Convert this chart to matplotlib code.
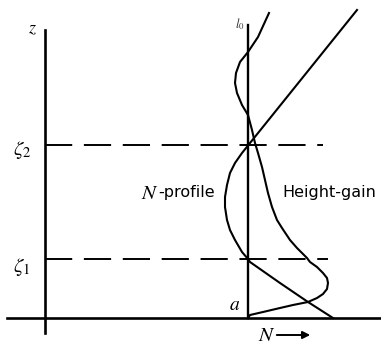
import matplotlib.pyplot as plt

plt.rcParams['mathtext.fontset'] = 'stix'

# heights of the duct boundaries
zeta1 = 59
zeta2 = 173
n_ref = 203   # vertical reference line through a

# N-profile (N, z)
nprof_N = [288, 263, 235, 205, 203, 197, 190, 185, 182, 180, 180, 182, 185, 190, 197, 205, 312]
nprof_z = [0, 16, 35, 56, 59, 66, 78, 88, 98, 111, 121, 133, 145, 155, 165, 175, 308]

# height-gain curve (N, z)
hg_N = [203, 205, 218, 235, 248, 263, 272, 278, 282, 283, 282, 278, 272, 265,
        262, 252, 245, 237, 232, 227, 223, 220, 217, 213, 210, 207, 203,
        197, 192, 190, 191, 195, 203, 213, 224]
hg_z = [0, 3, 6, 10, 13, 16, 20, 24, 29, 35, 40, 45, 51, 56,
        60, 70, 78, 90, 98, 111, 125, 138, 151, 165, 175, 188, 203,
        213, 225, 235, 245, 256, 266, 281, 305]

fig = plt.figure(figsize=(3.81, 3.44), dpi=100)
ax = fig.add_axes([0, 0, 1, 1])
ax.set_xlim(-45, 336)
ax.set_ylim(-26, 318)
ax.axis('off')

# axes
ax.plot([0, 0], [-15, 288], color='black', lw=1.9)
ax.plot([-38, 336], [0, 0], color='black', lw=1.9)
ax.plot([n_ref, n_ref], [0, 293], color='black', lw=1.7)

# duct boundaries
ax.plot([0, 278], [zeta2, zeta2], color='black', lw=1.4, dashes=(14, 6))
ax.plot([0, 283], [zeta1, zeta1], color='black', lw=1.4, dashes=(14, 6))

ax.plot(nprof_N, nprof_z, color='black', lw=1.5, solid_joinstyle='round')
ax.plot(hg_N, hg_z, color='black', lw=1.5, solid_joinstyle='round')

ax.text(-13, 290, '$z$', fontsize=13, ha='center', va='center')
ax.text(-23, zeta2 - 5, r'$\zeta_2$', fontsize=15, ha='center', va='center')
ax.text(-23, zeta1 - 8, r'$\zeta_1$', fontsize=15, ha='center', va='center')
ax.text(190, 13, '$a$', fontsize=14, ha='center', va='center')
ax.text(195, 294, '$l_0$', fontsize=9, ha='center', va='center', color='#333333')
ax.text(96, 125, '$N$', fontsize=15, ha='left', va='center')
ax.text(113, 125, '-profile', fontsize=11.5, ha='left', va='center')
ax.text(237, 125, 'Height-gain', fontsize=11.5, ha='left', va='center')
ax.text(222, -17, '$N$', fontsize=15, ha='center', va='center')
ax.annotate('', xy=(268, -17), xytext=(229, -17),
            arrowprops=dict(arrowstyle='-|>', color='black', lw=1.4, mutation_scale=11))

fig.savefig('out.png', dpi=100)
